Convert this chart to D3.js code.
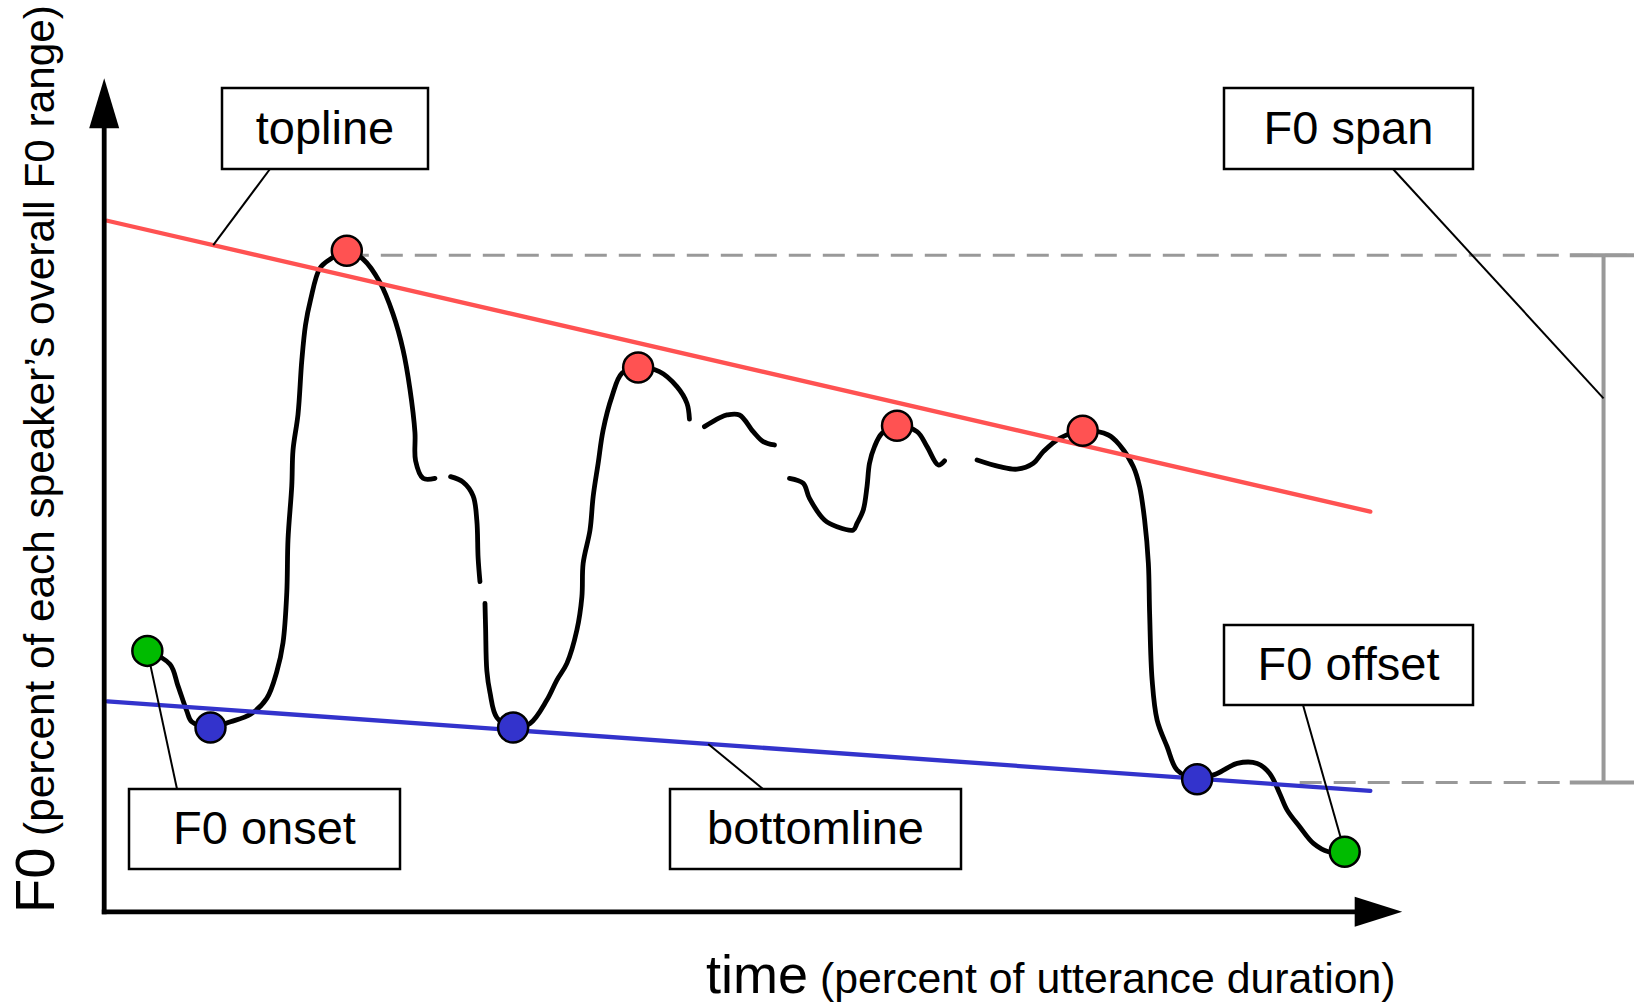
<!DOCTYPE html>
<html>
<head>
<meta charset="utf-8">
<script src="https://d3js.org/d3.v7.min.js"></script>
<style>
  body { margin: 0; background: #fff; }
  text { font-family: "Liberation Sans", Arimo, Arial, Helvetica, sans-serif; fill: #000; }
</style>
</head>
<body>
<svg width="1634" height="1006"></svg>
<script>
// F0 contour: [time %, F0 %] pairs, one array per voiced stretch
var contourA = [[3.45,31.3],[5.26,29.7],[5.9,27.1],[6.6,24.1],[7.0,22.8],[8.5,22.1],[10.1,22.8],[11.7,23.7],
  [13.0,25.6],[13.8,28.8],[14.3,32.3],[14.6,38.25],[14.7,44.7],[15.0,51.1],[15.1,55.4],[15.5,59.7],
  [15.8,66.1],[16.1,70.4],[16.5,73.4],[17.25,77.2],[18.1,78.3],[19.4,79.3],[20.7,78.3],[22.05,75.5],
  [23.1,71.7],[23.9,67.4],[24.45,62.7],[24.85,57.5],[24.9,54.1],[25.5,52.0],[26.45,52.0]];
var contourB = [[27.7,52.2],[28.7,51.55],[29.5,49.9],[29.8,46.9],[29.9,42.5],[30.05,39.6]];
var contourC = [[30.45,37.0],[30.5,34.0],[30.6,28.9],[30.85,26.3],[31.4,23.3],[32.7,22.1],[34.05,22.6],
  [35.4,25.4],[36.2,27.8],[37.0,29.8],[37.8,33.8],[38.2,37.8],[38.3,41.8],[38.85,45.8],[39.1,49.8],
  [39.5,53.8],[39.9,57.8],[40.6,61.8],[41.4,64.6],[42.7,65.3],[44.4,64.8],[45.8,63.0],[46.6,61.0],[46.8,59.1]];
var contourD = [[48.0,58.2],[49.2,59.25],[49.8,59.6],[50.8,59.6],[51.9,57.6],[52.7,56.4],[53.6,56.0]];
var contourE = [[54.8,52.0],[55.9,51.4],[56.4,49.6],[57.6,47.0],[58.6,46.2],[59.9,45.8],[60.2,46.6],
  [60.7,48.2],[61.0,51.0],[61.2,53.8],[61.6,55.8],[62.2,57.4],[63.4,58.3],[65.0,57.6],[65.8,55.8],
  [66.7,53.6],[67.2,54.1]];
var contourF = [[69.8,54.2],[71.6,53.4],[73.0,53.1],[74.3,53.8],[75.1,55.2],[76.4,56.8],[78.25,57.7],
  [80.3,57.2],[81.2,56.0],[82.3,53.4],[82.8,51.0],[83.2,47.0],[83.5,41.8],[83.6,35.8],[83.8,27.8],
  [84.2,23.0],[85.0,19.8],[85.8,17.0],[87.4,15.9],[89.0,16.6],[90.6,17.8],[92.2,17.8],[93.2,16.6],
  [94.0,14.2],[94.6,12.2],[95.6,10.2],[96.7,8.2],[97.9,7.2],[99.2,7.2]];

// marked points
var peaks   = [[19.4,79.3],[42.7,65.3],[63.4,58.3],[78.25,57.7]];
var valleys = [[8.5,22.1],[32.7,22.1],[87.4,15.9]];
var onsetOffset = [[3.45,31.3],[99.2,7.2]];

// regression lines: [time, F0] at both ends
var topline    = [[0.25,82.9],[101.25,48.0]];
var bottomline = [[0.25,25.25],[101.25,14.5]];

// F0 span: top and bottom level
var spanLevels = [78.75, 15.5];

var labels = ["topline", "F0 span", "F0 offset", "F0 onset", "bottomline"];

var svg = d3.select("svg");

var x = d3.scaleLinear().domain([0, 100]).range([104.2, 1354.7]);
var y = d3.scaleLinear().domain([0, 100]).range([911.8, 78.2]);

var red = "#ff5252", blue = "#3333cc", green = "#00bb00", grey = "#999999";

// grey span guides
var spanX = 119.9, edgeX = 123;
svg.append("line")
    .attr("x1", x(peaks[0][0])).attr("x2", x(edgeX))
    .attr("y1", y(spanLevels[0])).attr("y2", y(spanLevels[0]))
    .attr("stroke", grey).attr("stroke-width", 3).attr("stroke-dasharray", "22,12");
svg.append("line")
    .attr("x1", x(95.6)).attr("x2", x(edgeX))
    .attr("y1", y(spanLevels[1])).attr("y2", y(spanLevels[1]))
    .attr("stroke", grey).attr("stroke-width", 3).attr("stroke-dasharray", "22,12");
svg.append("line")
    .attr("x1", x(spanX)).attr("x2", x(spanX))
    .attr("y1", y(spanLevels[0])).attr("y2", y(spanLevels[1]))
    .attr("stroke", grey).attr("stroke-width", 4);
spanLevels.forEach(function(v) {
  svg.append("line")
      .attr("x1", x(117.2)).attr("x2", x(edgeX))
      .attr("y1", y(v)).attr("y2", y(v))
      .attr("stroke", grey).attr("stroke-width", 4);
});

// contour
var line = d3.line()
    .x(function(d) { return x(d[0]); })
    .y(function(d) { return y(d[1]); })
    .curve(d3.curveCatmullRom.alpha(0.5));

svg.append("g")
  .selectAll("path")
  .data([contourA, contourB, contourC, contourD, contourE, contourF])
  .enter().append("path")
    .attr("d", line)
    .attr("fill", "none")
    .attr("stroke", "#000")
    .attr("stroke-width", 4.8)
    .attr("stroke-linecap", "round")
    .attr("stroke-linejoin", "round");

// topline and bottomline
[[topline, red], [bottomline, blue]].forEach(function(p) {
  svg.append("line")
      .attr("x1", x(p[0][0][0])).attr("y1", y(p[0][0][1]))
      .attr("x2", x(p[0][1][0])).attr("y2", y(p[0][1][1]))
      .attr("stroke", p[1]).attr("stroke-width", 4.3)
      .attr("stroke-linecap", "round");
});

function along(seg, t) {
  var k = (t - seg[0][0]) / (seg[1][0] - seg[0][0]);
  return [t, seg[0][1] + k * (seg[1][1] - seg[0][1])];
}

// label boxes (layout, px) and where their leaders point (data)
var boxes = [
  {x: 222, y: 88, w: 206, h: 81, from: [270, 169], to: along(topline, 8.72)},
  {x: 1224, y: 88, w: 249, h: 81, from: [1393, 169], to: [spanX, 61.6]},
  {x: 1224, y: 625, w: 249, h: 80, from: [1303, 705], to: onsetOffset[1]},
  {x: 129, y: 789, w: 271, h: 80, from: [177, 789], to: onsetOffset[0]},
  {x: 670, y: 789, w: 291, h: 80, from: [763, 789], to: along(bottomline, 48.3)}
];

boxes.forEach(function(b) {
  svg.append("line")
      .attr("x1", b.from[0]).attr("y1", b.from[1])
      .attr("x2", x(b.to[0])).attr("y2", y(b.to[1]))
      .attr("stroke", "#000").attr("stroke-width", 2);
});

// dots
function dots(data, fill) {
  svg.append("g").selectAll("circle")
    .data(data)
    .enter().append("circle")
      .attr("cx", function(d) { return x(d[0]); })
      .attr("cy", function(d) { return y(d[1]); })
      .attr("r", 15)
      .attr("fill", fill)
      .attr("stroke", "#000")
      .attr("stroke-width", 2.5);
}
dots(peaks, red);
dots(valleys, blue);
dots(onsetOffset, green);

var bg = svg.append("g").selectAll("g")
  .data(boxes)
  .enter().append("g");
bg.append("rect")
    .attr("x", function(d) { return d.x; })
    .attr("y", function(d) { return d.y; })
    .attr("width", function(d) { return d.w; })
    .attr("height", function(d) { return d.h; })
    .attr("fill", "#fff")
    .attr("stroke", "#000")
    .attr("stroke-width", 2.5);
bg.append("text")
    .attr("x", function(d) { return d.x + d.w / 2; })
    .attr("y", function(d) { return d.y + d.h / 2 + 15; })
    .attr("text-anchor", "middle")
    .attr("font-size", 47)
    .text(function(d, i) { return labels[i]; });

// axes with arrowheads
svg.append("line")
    .attr("x1", x(0)).attr("x2", x(0))
    .attr("y1", y(0) + 2.4).attr("y2", y(94.5))
    .attr("stroke", "#000").attr("stroke-width", 4.8);
svg.append("line")
    .attr("x1", x(0) - 2.4).attr("x2", x(100.5))
    .attr("y1", y(0)).attr("y2", y(0))
    .attr("stroke", "#000").attr("stroke-width", 4.8);
svg.append("path")
    .attr("d", "M" + x(0) + "," + y(100) + "L" + (x(0) - 15) + "," + y(94) + "L" + (x(0) + 15) + "," + y(94) + "Z")
    .attr("fill", "#000");
svg.append("path")
    .attr("d", "M" + x(103.8) + "," + y(0) + "L" + x(100) + "," + (y(0) - 15) + "L" + x(100) + "," + (y(0) + 15) + "Z")
    .attr("fill", "#000");

// axis titles
var yt = svg.append("text")
    .attr("transform", "translate(53.5,913) rotate(-90)");
yt.append("tspan").attr("font-size", 56).text("F0");
yt.append("tspan").attr("font-size", 42.3).text(" (percent of each speaker\u2019s overall F0 range)");

var xt = svg.append("text")
    .attr("x", 706).attr("y", 993);
xt.append("tspan").attr("font-size", 54).text("time");
xt.append("tspan").attr("font-size", 42.8).text(" (percent of utterance duration)");
</script>
</body>
</html>
